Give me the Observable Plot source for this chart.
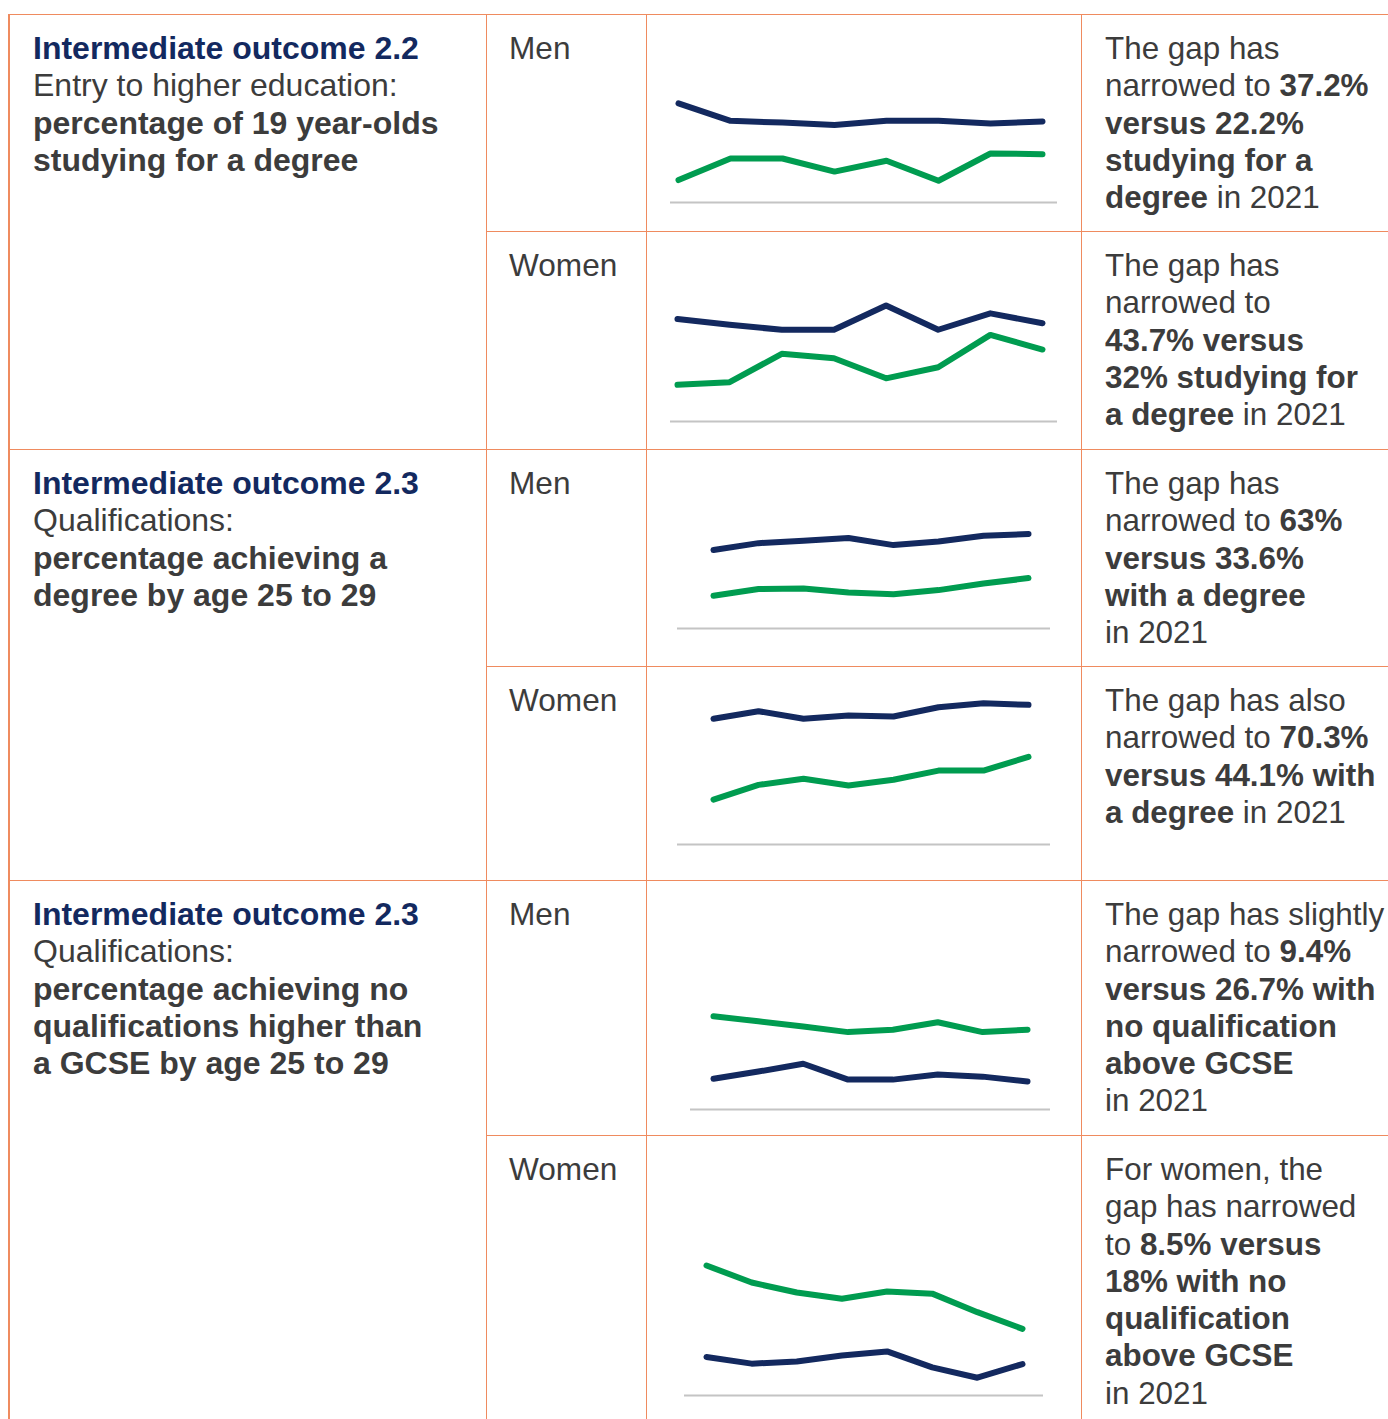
<!DOCTYPE html>
<html><head><meta charset="utf-8">
<script src="https://cdn.jsdelivr.net/npm/d3@7"></script>
<script src="https://cdn.jsdelivr.net/npm/@observablehq/plot@0.6"></script>
<style>
body{margin:0;background:#fff;font-family:"Liberation Sans",Arial,sans-serif;}
#root{position:relative;width:1388px;height:1419px;overflow:hidden;background:#fff;}
.ln{position:absolute;background:#ef8b5f;}
.txt{position:absolute;font-size:32px;line-height:37.3px;color:#3c3c3c;white-space:nowrap;}
.txt.note{font-size:31.4px;}
.txt.sex{font-size:31.6px;}
.title{color:#13295f;font-weight:bold;}
.chart{position:absolute;}
.chart svg{display:block;overflow:visible;}
</style></head><body><div id="root"></div>
<script>
// ---------- data ----------
const years = [2014, 2015, 2016, 2017, 2018, 2019, 2020, 2021];
const groups = ["Comparison group", "Disadvantaged group"];

// Entry to higher education (% of 19 year-olds studying for a degree)
const entryMenComparison   = [45.5, 37.5, 36.7, 35.6, 37.5, 37.5, 36.3, 37.2];
const entryMenDisadv       = [10.3, 20.2, 20.2, 14.2, 19.2, 10.0, 22.5, 22.2];
const entryWomenComparison = [45.6, 43.0, 40.8, 40.8, 51.6, 40.8, 48.1, 43.7];
const entryWomenDisadv     = [16.3, 17.5, 30.1, 28.1, 19.2, 24.1, 38.5, 32.0];

// Degree by age 25 to 29
const degreeMenComparison   = [52.3, 56.9, 58.5, 60.3, 55.6, 58.0, 61.8, 63.0];
const degreeMenDisadv       = [21.8, 26.3, 26.7, 24.0, 22.9, 25.6, 30.0, 33.6];
const degreeWomenComparison = [63.3, 67.1, 63.3, 64.9, 64.4, 69.1, 71.1, 70.3];
const degreeWomenDisadv     = [22.6, 30.0, 33.1, 29.7, 32.6, 37.2, 37.2, 44.1];

// No qualification above GCSE by age 25 to 29
const noQualMenComparison   = [10.3, 12.7, 15.3, 10.0, 10.0, 11.7, 11.0, 9.4];
const noQualMenDisadv       = [31.2, 29.5, 27.8, 25.9, 26.7, 29.2, 25.9, 26.7];
const noQualWomenComparison = [10.4, 8.6, 9.2, 10.8, 11.9, 7.6, 4.8, 8.5];
const noQualWomenDisadv     = [35.1, 30.5, 27.8, 26.1, 28.1, 27.5, 22.5, 18.0];

const sexLabels = ["Men", "Women"];

// ---------- layout ----------
const root = document.getElementById("root");
function line(x, y, w, h) {
  const d = document.createElement("div");
  d.className = "ln";
  Object.assign(d.style, {left: x + "px", top: y + "px", width: w + "px", height: h + "px"});
  root.appendChild(d);
}
// horizontal lines
line(8, 13.5, 1380, 1.5);
line(486, 230.5, 902, 1.5);
line(8, 448.5, 1380, 1.5);
line(486, 665.5, 902, 1.5);
line(8, 879.5, 1380, 1.5);
line(486, 1134.5, 902, 1.5);
// vertical lines
line(8, 13.5, 1.5, 1406);
line(485.5, 13.5, 1.5, 1406);
line(645.5, 13.5, 1.5, 1406);
line(1080.5, 13.5, 1.5, 1406);

function text(x, y, html, cls) {
  const d = document.createElement("div");
  d.className = "txt" + (cls ? " " + cls : "");
  d.style.left = x + "px";
  d.style.top = y + "px";
  d.innerHTML = html;
  root.appendChild(d);
}
const rowTops = [14, 231, 449, 666, 880, 1135];
const pad = 16;

text(33, rowTops[0] + pad, '<span class="title">Intermediate outcome 2.2</span><br>Entry to higher education:<br><b>percentage of 19 year-olds<br>studying for a degree</b>');
text(33, rowTops[2] + pad, '<span class="title">Intermediate outcome 2.3</span><br>Qualifications:<br><b>percentage achieving a<br>degree by age 25 to 29</b>');
text(33, rowTops[4] + pad, '<span class="title">Intermediate outcome 2.3</span><br>Qualifications:<br><b>percentage achieving no<br>qualifications higher than<br>a GCSE by age 25 to 29</b>');

rowTops.forEach((t, i) => text(509, t + pad, sexLabels[i % 2], "sex"));

const notes = [
  'The gap has<br>narrowed to <b>37.2%<br>versus 22.2%<br>studying for a<br>degree</b> in 2021',
  'The gap has<br>narrowed to<br><b>43.7% versus<br>32% studying for<br>a degree</b> in 2021',
  'The gap has<br>narrowed to <b>63%<br>versus 33.6%<br>with a degree</b><br>in 2021',
  'The gap has also<br>narrowed to <b>70.3%<br>versus 44.1% with<br>a degree</b> in 2021',
  'The gap has slightly<br>narrowed to <b>9.4%<br>versus 26.7% with<br>no qualification<br>above GCSE</b><br>in 2021',
  'For women, the<br>gap has narrowed<br>to <b>8.5% versus<br>18% with no<br>qualification<br>above GCSE</b><br>in 2021'
];
notes.forEach((n, i) => text(1105, rowTops[i] + pad, n, "note"));

// ---------- charts ----------
const series = [
  [entryMenComparison, entryMenDisadv],
  [entryWomenComparison, entryWomenDisadv],
  [degreeMenComparison, degreeMenDisadv],
  [degreeWomenComparison, degreeWomenDisadv],
  [noQualMenComparison, noQualMenDisadv],
  [noQualWomenComparison, noQualWomenDisadv]
];
// geometry: rule start, rule width, baseline y, inset left/right, y max
const geom = [
  {left: 670, width: 387, base: 201.7, il: 8,  ir: 15, ymax: 68.9},
  {left: 670, width: 387, base: 421,   il: 7,  ir: 15, ymax: 66.7},
  {left: 677, width: 373, base: 627.7, il: 36, ir: 22, ymax: 100},
  {left: 677, width: 373, base: 844,   il: 36, ir: 22, ymax: 75.5},
  {left: 690, width: 360, base: 1109,  il: 23, ir: 23, ymax: 50.2},
  {left: 684, width: 359, base: 1395,  il: 22, ir: 21, ymax: 40.5}
];
const H = 150, MB = 3;

series.forEach(([comp, dis], i) => {
  const g = geom[i];
  const rows = [];
  years.forEach((yr, j) => {
    rows.push({year: yr, value: comp[j], group: groups[0]});
  });
  years.forEach((yr, j) => {
    rows.push({year: yr, value: dis[j], group: groups[1]});
  });
  const chart = Plot.plot({
    width: g.width,
    height: H + MB,
    marginTop: 0, marginBottom: MB, marginLeft: 0, marginRight: 0,
    x: {domain: [years[0], years[years.length - 1]], insetLeft: g.il, insetRight: g.ir, axis: null},
    y: {domain: [0, g.ymax], axis: null},
    color: {domain: groups, range: ["#13295f", "#009c50"]},
    style: {background: "transparent", overflow: "visible"},
    marks: [
      Plot.ruleY([0], {stroke: "#c4c4c4", strokeWidth: 2}),
      Plot.line(rows, {x: "year", y: "value", z: "group", stroke: "group",
        strokeWidth: 6, strokeLinecap: "round", strokeLinejoin: "round"})
    ]
  });
  const wrap = document.createElement("div");
  wrap.className = "chart";
  wrap.style.left = g.left + "px";
  wrap.style.top = (g.base - H) + "px";
  wrap.appendChild(chart);
  root.appendChild(wrap);
});
</script></body></html>
